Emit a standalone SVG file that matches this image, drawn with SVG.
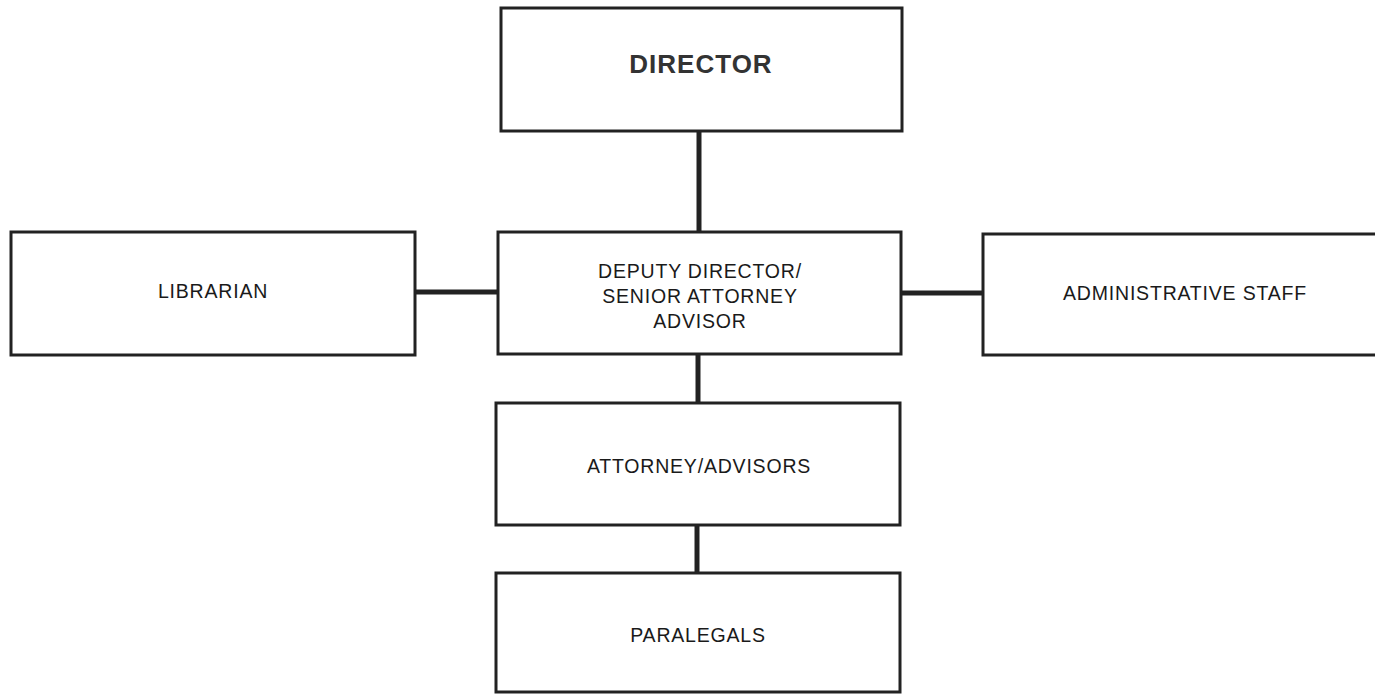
<svg xmlns="http://www.w3.org/2000/svg" width="1375" height="694" viewBox="0 0 1375 694">
<style>
.box{fill:#fff;stroke:#222;stroke-width:3}
.lbl{font-family:"Liberation Sans",Arial,sans-serif;font-size:19.5px;fill:#1a1a1a;text-anchor:middle;letter-spacing:0.8px}
.big{font-size:26px;letter-spacing:1px;font-weight:bold;fill:#333}
.conn{stroke:#222;stroke-width:5;fill:none}
</style>
<rect width="1375" height="694" fill="#fff"/>
<g id="connectors">
<line class="conn" x1="699" y1="131" x2="699" y2="232"/>
<line class="conn" x1="698" y1="354" x2="698" y2="403"/>
<line class="conn" x1="697" y1="525" x2="697" y2="573"/>
<line class="conn" x1="415" y1="292" x2="498" y2="292"/>
<line class="conn" x1="901" y1="293" x2="983" y2="293"/>
</g>
<g id="director">
<rect class="box" x="501" y="8" width="401" height="123"/>
<text class="lbl big" x="701" y="73">DIRECTOR</text>
</g>
<g id="librarian">
<rect class="box" x="11" y="232" width="404" height="123"/>
<text class="lbl" x="213" y="298">LIBRARIAN</text>
</g>
<g id="deputy">
<rect class="box" x="498" y="232" width="403" height="122"/>
<text class="lbl" x="700" y="278">DEPUTY DIRECTOR/</text>
<text class="lbl" x="700" y="303">SENIOR ATTORNEY</text>
<text class="lbl" x="700" y="328">ADVISOR</text>
</g>
<g id="admin">
<rect class="box" x="983" y="234" width="400" height="121"/>
<text class="lbl" x="1185" y="300">ADMINISTRATIVE STAFF</text>
</g>
<g id="attorneys">
<rect class="box" x="496" y="403" width="404" height="122"/>
<text class="lbl" x="699" y="473">ATTORNEY/ADVISORS</text>
</g>
<g id="paralegals">
<rect class="box" x="496" y="573" width="404" height="119"/>
<text class="lbl" x="698" y="642">PARALEGALS</text>
</g>
</svg>
